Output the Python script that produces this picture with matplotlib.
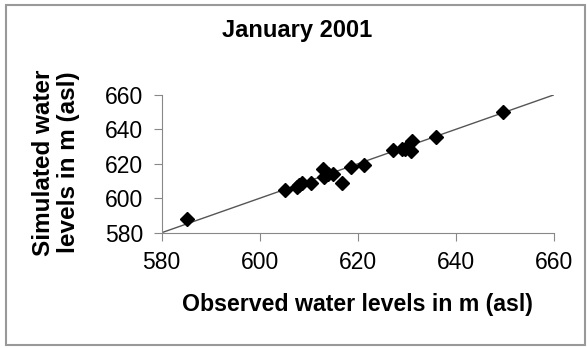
import numpy as np
import matplotlib
matplotlib.use("Agg")
import matplotlib.pyplot as plt
from matplotlib.patches import Rectangle

plt.rcParams['font.family'] = ['Liberation Sans', 'DejaVu Sans']

# observed vs simulated water levels (m asl)
observed = [585.1, 605.2, 607.6, 608.0, 608.6, 610.5, 613.0, 613.2, 614.0, 615.0,
            616.9, 618.6, 621.4, 627.3, 629.0, 629.6, 631.0, 631.2, 636.0, 649.7]
simulated = [587.8, 604.8, 606.4, 607.6, 608.9, 609.1, 616.8, 612.6, 613.9, 614.1,
             609.1, 618.4, 619.3, 627.9, 628.6, 628.6, 627.5, 633.3, 635.8, 650.3]
ticks = [580, 600, 620, 640, 660]

W, H = 587, 348
fig = plt.figure(figsize=(W/100, H/100), dpi=100)
ax = fig.add_axes([161.7/W, 1 - 232.7/H, (553.5 - 161.7)/W, (232.7 - 95)/H])

ax.plot([580, 660], [580, 660], color='#555555', linewidth=1.0)
ax.plot(observed, simulated, linestyle='none', marker='D', markersize=7.2, color='black')

ax.set_xlim(580, 660)
ax.set_ylim(580, 660)
ax.set_xticks(ticks)
ax.set_yticks(ticks)
ax.tick_params(labelsize=16.5, length=5.5, color='#888888', direction='out', pad=8)
for s in ['top', 'right']:
    ax.spines[s].set_visible(False)
for s in ['left', 'bottom']:
    ax.spines[s].set_color('#888888')

fig.text(357/W, 1 - 305/H, 'Observed water levels in m (asl)', fontsize=16.7,
         fontweight='bold', ha='center', va='center')
fig.text(56/W, 1 - 162.5/H, 'Simulated water\nlevels in m (asl)', fontsize=17.5,
         fontweight='bold', ha='center', va='center', rotation=90, linespacing=1.15,
         multialignment='center')
fig.text(297/W, 1 - 31/H, 'January 2001', fontsize=17, fontweight='bold',
         ha='center', va='center')

fig.patches.append(Rectangle((6/W, 3/H), 579/W, 1 - 8/H, transform=fig.transFigure,
                             fill=False, edgecolor='#999999', linewidth=1.5))

fig.savefig('out.png', dpi=100)
